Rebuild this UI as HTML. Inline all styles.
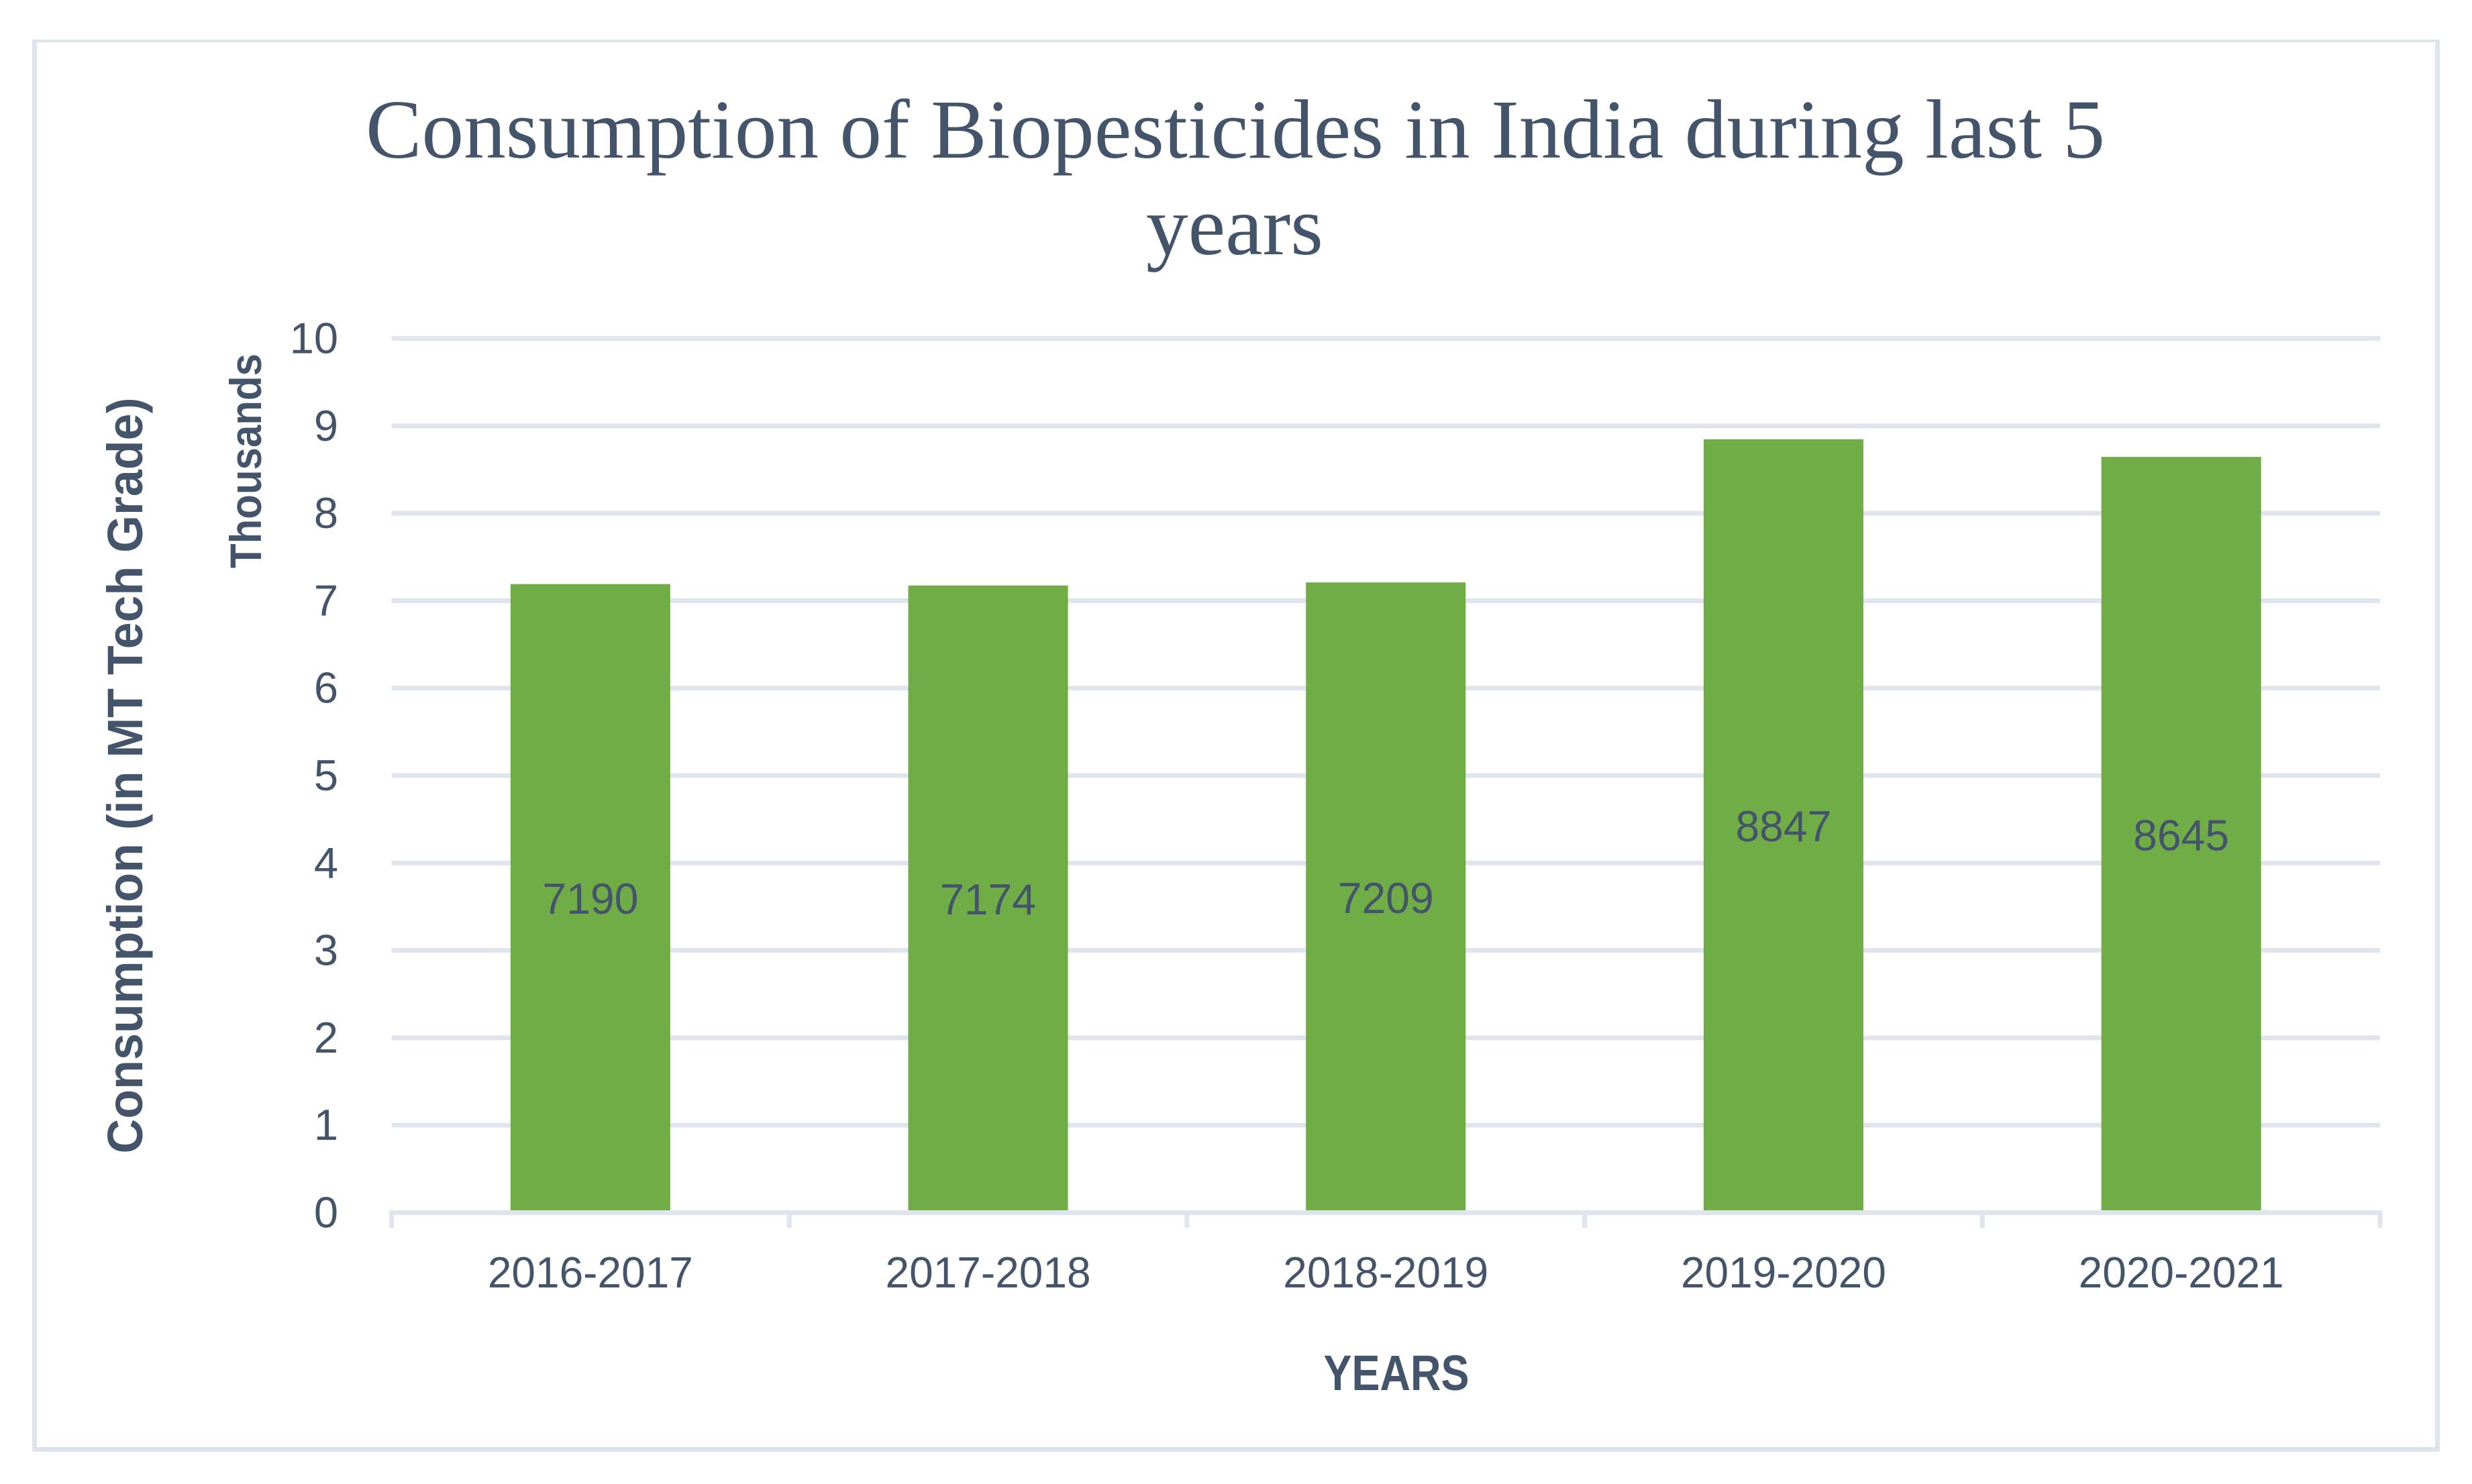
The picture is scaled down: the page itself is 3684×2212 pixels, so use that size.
<!DOCTYPE html>
<html lang="en">
<head>
<meta charset="utf-8">
<title>Consumption of Biopesticides in India</title>
<style>
html,body{margin:0;padding:0;background:#fff;width:3684px;height:2212px;overflow:hidden}
svg{display:block}
text{fill:#44546a}
.sans{font-family:"Liberation Sans",sans-serif}
.serif{font-family:"Liberation Serif",serif}
</style>
</head>
<body>
<svg id="chart" xmlns="http://www.w3.org/2000/svg" width="3684" height="2212" viewBox="0 0 3684 2212">
  <rect x="0" y="0" width="3684" height="2212" fill="#ffffff"/>
  <rect x="48" y="59" width="3588" height="2105" fill="#dfe3ea"/>
  <rect x="55" y="63" width="3574" height="2094" fill="#ffffff"/>
  <text class="serif" x="1841" y="235" text-anchor="middle" font-size="125" textLength="2592" lengthAdjust="spacingAndGlyphs">Consumption of Biopesticides in India during last 5</text>
  <text class="serif" x="1840" y="379" text-anchor="middle" font-size="125" textLength="264" lengthAdjust="spacingAndGlyphs">years</text>
  <text class="sans" font-weight="700" font-size="74" text-anchor="middle" textLength="1127" lengthAdjust="spacingAndGlyphs" transform="translate(212 1156) rotate(-90)">Consumption (in MT Tech Grade)</text>
  <text class="sans" font-weight="700" font-size="66" text-anchor="middle" textLength="320" lengthAdjust="spacingAndGlyphs" transform="translate(389 687) rotate(-90)">Thousands</text>
  <text class="sans" font-weight="700" font-size="74" x="2081" y="2072" text-anchor="middle" textLength="217" lengthAdjust="spacingAndGlyphs">YEARS</text>
  <g id="grid"></g>
  <g id="xaxis"></g>
  <g id="yaxis"></g>
  <g id="bars"></g>
  <g id="labels"></g>
</svg>
<script>
const categories = ["2016-2017", "2017-2018", "2018-2019", "2019-2020", "2020-2021"];
const consumption = [7190, 7174, 7209, 8847, 8645];
const yTicks = [0, 1, 2, 3, 4, 5, 6, 7, 8, 9, 10];

const NS = "http://www.w3.org/2000/svg";
const plotLeft = 583.5, plotRight = 3547, plotBottom = 1807.5, plotTop = 504.5;
const yMax = 10000;
const lineColor = "#e0e4ec";
const textColor = "#44546a";
const band = (plotRight - plotLeft) / categories.length;
const barWidth = band * 0.4016;

function xBand(i) { return plotLeft + band * i; }
function xCenter(i) { return xBand(i) + band / 2; }
function yScale(v) { return plotBottom - (v / yMax) * (plotBottom - plotTop); }
function make(tag, parent) {
  const el = document.createElementNS(NS, tag);
  parent.appendChild(el);
  return el;
}

const gridG = document.getElementById("grid");
const xG = document.getElementById("xaxis");
const yG = document.getElementById("yaxis");
const barsG = document.getElementById("bars");
const labelsG = document.getElementById("labels");

yTicks.forEach(function (t) {
  const y = yScale(t * 1000);
  if (t !== 0) {
    const g = make("rect", gridG);
    
    
    g.setAttribute("x", plotLeft);
    g.setAttribute("y", y - 3.5);
    g.setAttribute("width", plotRight - plotLeft);
    g.setAttribute("height", 7);
    g.setAttribute("fill", lineColor);
  }
  const lab = make("text", yG);
  
  
  lab.setAttribute("class", "sans");
  lab.setAttribute("x", 504);
  lab.setAttribute("y", y + 22);
  lab.setAttribute("text-anchor", "end");
  lab.setAttribute("font-size", 65);
  lab.textContent = String(t);
});

const axisLine = make("rect", xG);


axisLine.setAttribute("x", plotLeft - 3.5);
axisLine.setAttribute("y", plotBottom - 3.5);
axisLine.setAttribute("width", plotRight - plotLeft + 7);
axisLine.setAttribute("height", 7);
axisLine.setAttribute("fill", lineColor);

for (let i = 0; i <= categories.length; i++) {
  const tick = make("rect", xG);
  
  
  tick.setAttribute("x", xBand(i) - 3.5);
  tick.setAttribute("y", plotBottom - 3.5);
  tick.setAttribute("width", 7);
  tick.setAttribute("height", 26);
  tick.setAttribute("fill", lineColor);
}

categories.forEach(function (c, i) {
  const v = consumption[i];
  const bar = make("rect", barsG);
  
  
  bar.setAttribute("x", xCenter(i) - barWidth / 2);
  bar.setAttribute("y", yScale(v));
  bar.setAttribute("width", barWidth);
  bar.setAttribute("height", plotBottom - 3.5 - yScale(v));
  bar.setAttribute("fill", "#70ad47");

  const val = make("text", labelsG);
  
  
  val.setAttribute("class", "sans");
  val.setAttribute("x", xCenter(i));
  val.setAttribute("y", yScale(v / 2) + 23);
  val.setAttribute("text-anchor", "middle");
  val.setAttribute("font-size", 65);
  val.setAttribute("textLength", 143);
  val.setAttribute("lengthAdjust", "spacingAndGlyphs");
  val.textContent = String(v);

  const cat = make("text", xG);
  
  
  cat.setAttribute("class", "sans");
  cat.setAttribute("x", xCenter(i));
  cat.setAttribute("y", 1919);
  cat.setAttribute("text-anchor", "middle");
  cat.setAttribute("font-size", 65);
  cat.setAttribute("textLength", 306);
  cat.setAttribute("lengthAdjust", "spacingAndGlyphs");
  cat.textContent = c;
});
</script>
</body>
</html>
